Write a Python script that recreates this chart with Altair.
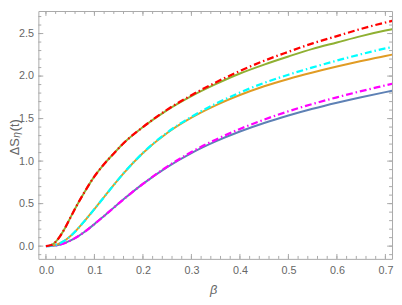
import altair as alt
import pandas as pd

# beta sample points
beta = [0.0, 0.01, 0.02, 0.03, 0.04, 0.05, 0.06, 0.08, 0.10, 0.12, 0.14, 0.16,
        0.20, 0.25, 0.30, 0.35, 0.40, 0.45, 0.50, 0.55, 0.60, 0.65, 0.70, 0.714]

green = [0.0, 0.01, 0.05, 0.125, 0.22, 0.33, 0.44, 0.64, 0.82, 0.965, 1.09, 1.21,
         1.40, 1.60, 1.765, 1.905, 2.03, 2.135, 2.23, 2.32, 2.395, 2.47, 2.535, 2.551]
red = [0.0, 0.01, 0.05, 0.125, 0.22, 0.33, 0.44, 0.64, 0.82, 0.965, 1.09, 1.21,
       1.40, 1.605, 1.775, 1.925, 2.06, 2.18, 2.285, 2.385, 2.47, 2.555, 2.63, 2.648]
orange = [0.0, 0.004, 0.015, 0.038, 0.07, 0.115, 0.17, 0.298, 0.436, 0.578, 0.72, 0.856,
          1.096, 1.331, 1.511, 1.656, 1.777, 1.88, 1.966, 2.042, 2.112, 2.177, 2.237, 2.252]
cyan = [0.0, 0.004, 0.015, 0.038, 0.07, 0.115, 0.17, 0.298, 0.436, 0.578, 0.72, 0.856,
        1.096, 1.336, 1.521, 1.674, 1.805, 1.92, 2.016, 2.102, 2.182, 2.257, 2.325, 2.342]
blue = [0.0, 0.002, 0.008, 0.02, 0.038, 0.064, 0.094, 0.17, 0.259, 0.355, 0.453, 0.55,
        0.732, 0.93, 1.095, 1.232, 1.348, 1.448, 1.536, 1.615, 1.686, 1.751, 1.811, 1.827]
magenta = [0.0, 0.002, 0.008, 0.02, 0.038, 0.064, 0.094, 0.17, 0.259, 0.355, 0.453, 0.55,
           0.732, 0.935, 1.107, 1.252, 1.378, 1.488, 1.586, 1.672, 1.75, 1.823, 1.891, 1.910]

solid_names = ["blue", "orange", "green"]
dash_names = ["magenta", "cyan", "red"]
colors = {"blue": "#5E81B5", "orange": "#E19C24", "green": "#8FB032",
          "magenta": "#FF00FF", "cyan": "#00FFFF", "red": "#FF0000"}
series = {"blue": blue, "orange": orange, "green": green,
          "magenta": magenta, "cyan": cyan, "red": red}

x_major = [0.0, 0.1, 0.2, 0.3, 0.4, 0.5, 0.6, 0.7]
y_major = [0.0, 0.5, 1.0, 1.5, 2.0, 2.5]
x_minor = [round(i * 0.02, 2) for i in range(0, 36)]
y_minor = [round(i * 0.1 - 0.1, 1) for i in range(0, 29)]

W, H = 361, 253
XD = [-0.0156, 0.7137]
YD = [-0.1498, 2.765]
FRAME = "#a8a8a8"
LAB = "#666666"

rows = []
for name in solid_names + dash_names:
    for b, v in zip(beta, series[name]):
        rows.append({"beta": b, "val": v, "s": name})
df = pd.DataFrame(rows)

xs = alt.Scale(domain=XD, nice=False, zero=False)
ys = alt.Scale(domain=YD, nice=False, zero=False)
cs = alt.Scale(domain=list(colors.keys()), range=list(colors.values()))

xaxis = alt.Axis(values=x_major, format=".1f", ticks=False, domain=False, grid=False,
                 labelPadding=6, labelColor=LAB, labelFontSize=11, labelFont="Liberation Sans",
                 title=None)
yaxis = alt.Axis(values=y_major, format=".1f", ticks=False, domain=False, grid=False,
                 labelPadding=5, labelColor=LAB, labelFontSize=11, labelFont="Liberation Sans",
                 title=None)

base = alt.Chart(df)
solid = base.transform_filter(alt.FieldOneOfPredicate(field="s", oneOf=solid_names)).mark_line(
    strokeWidth=2, clip=True, interpolate="monotone").encode(
    x=alt.X("beta:Q", scale=xs, axis=xaxis),
    y=alt.Y("val:Q", scale=ys, axis=yaxis),
    color=alt.Color("s:N", scale=cs, legend=None),
    detail="s:N",
)
dashed = base.transform_filter(alt.FieldOneOfPredicate(field="s", oneOf=dash_names)).mark_line(
    strokeWidth=2.3, clip=True, interpolate="monotone", strokeDash=[7, 3, 1.5, 3]).encode(
    x=alt.X("beta:Q", scale=xs),
    y=alt.Y("val:Q", scale=ys),
    color=alt.Color("s:N", scale=cs, legend=None),
    detail="s:N",
)

def xticks(vals, length):
    d = pd.DataFrame({"t": vals})
    bot = alt.Chart(d).mark_rule(color=FRAME, strokeWidth=1).encode(
        x=alt.X("t:Q", scale=xs), y=alt.value(H), y2=alt.value(H - length))
    top = alt.Chart(d).mark_rule(color=FRAME, strokeWidth=1).encode(
        x=alt.X("t:Q", scale=xs), y=alt.value(0), y2=alt.value(length))
    return [bot, top]

def yticks(vals, length):
    d = pd.DataFrame({"t": vals})
    lft = alt.Chart(d).mark_rule(color=FRAME, strokeWidth=1).encode(
        y=alt.Y("t:Q", scale=ys), x=alt.value(0), x2=alt.value(length))
    rgt = alt.Chart(d).mark_rule(color=FRAME, strokeWidth=1).encode(
        y=alt.Y("t:Q", scale=ys), x=alt.value(W), x2=alt.value(W - length))
    return [lft, rgt]

one = pd.DataFrame({"k": [0]})
def label(txt, x, y, size, angle=0, style="normal"):
    return alt.Chart(one).mark_text(text=txt, fontSize=size, color=LAB, font="Liberation Sans",
                                    angle=angle, align="center", baseline="middle",
                                    fontStyle=style).encode(x=alt.value(x), y=alt.value(y))

texts = [
    label("ΔS", -23.5, 138.5, 13, angle=270),
    label("η", -21.5, 126.5, 10.5, angle=270, style="italic"),
    label("(t)", -23.5, 116.5, 13, angle=270),
    label("β", 179, 285, 13, style="italic"),
]

chart = alt.layer(
    *xticks(x_minor, 3), *xticks(x_major, 5), *yticks(y_minor, 3), *yticks(y_major, 5),
    solid, dashed, *texts
).properties(
    width=W, height=H,
    autosize=alt.AutoSizeParams(type="none"),
    padding={"left": 31, "top": 0, "right": 2, "bottom": 44},
    background="white",
).configure_view(stroke=FRAME, strokeWidth=1)

chart.save("out.html", embed_options={"renderer": "svg", "actions": False})
